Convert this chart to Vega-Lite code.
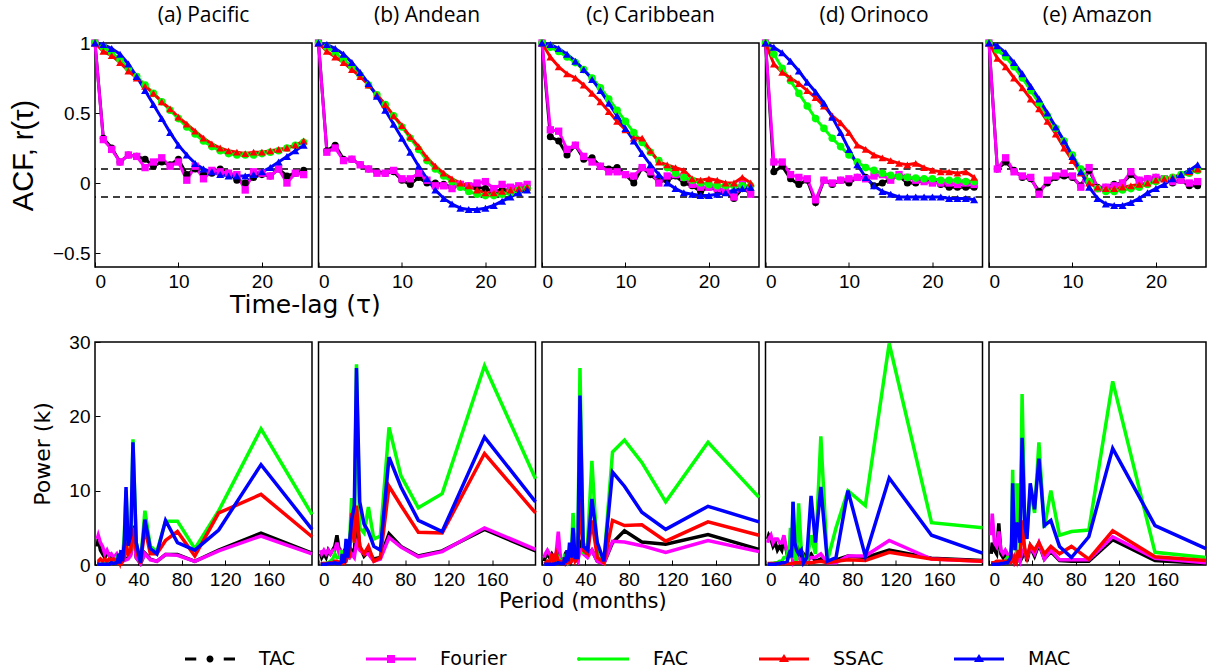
{
"$schema":"https://vega.github.io/schema/vega-lite/v6.json",
"background":"white",
"padding":{"left":9,"top":5,"right":0,"bottom":0},
"datasets":{
"acf":[
{"r":"a","x":0,"TAC":1,"Fourier":1,"FAC":1,"SSAC":1,"MAC":1},
{"r":"a","x":1,"TAC":0.32,"Fourier":0.31,"FAC":0.97,"SSAC":0.94,"MAC":0.99},
{"r":"a","x":2,"TAC":0.25,"Fourier":0.24,"FAC":0.93,"SSAC":0.91,"MAC":0.96},
{"r":"a","x":3,"TAC":0.15,"Fourier":0.15,"FAC":0.88,"SSAC":0.86,"MAC":0.92},
{"r":"a","x":4,"TAC":0.2,"Fourier":0.2,"FAC":0.82,"SSAC":0.8,"MAC":0.85},
{"r":"a","x":5,"TAC":0.19,"Fourier":0.19,"FAC":0.76,"SSAC":0.75,"MAC":0.76},
{"r":"a","x":6,"TAC":0.17,"Fourier":0.11,"FAC":0.7,"SSAC":0.69,"MAC":0.66},
{"r":"a","x":7,"TAC":0.12,"Fourier":0.15,"FAC":0.64,"SSAC":0.64,"MAC":0.56},
{"r":"a","x":8,"TAC":0.15,"Fourier":0.18,"FAC":0.58,"SSAC":0.58,"MAC":0.46},
{"r":"a","x":9,"TAC":0.13,"Fourier":0.12,"FAC":0.52,"SSAC":0.53,"MAC":0.36},
{"r":"a","x":10,"TAC":0.17,"Fourier":0.15,"FAC":0.46,"SSAC":0.47,"MAC":0.27},
{"r":"a","x":11,"TAC":0.06,"Fourier":0.02,"FAC":0.4,"SSAC":0.42,"MAC":0.2},
{"r":"a","x":12,"TAC":0.1,"Fourier":0.12,"FAC":0.35,"SSAC":0.37,"MAC":0.14},
{"r":"a","x":13,"TAC":0.06,"Fourier":0.03,"FAC":0.3,"SSAC":0.32,"MAC":0.1},
{"r":"a","x":14,"TAC":0.07,"Fourier":0.09,"FAC":0.26,"SSAC":0.28,"MAC":0.08},
{"r":"a","x":15,"TAC":0.1,"Fourier":0.08,"FAC":0.23,"SSAC":0.25,"MAC":0.06},
{"r":"a","x":16,"TAC":0.07,"Fourier":0.07,"FAC":0.21,"SSAC":0.23,"MAC":0.05},
{"r":"a","x":17,"TAC":0.02,"Fourier":0.06,"FAC":0.2,"SSAC":0.22,"MAC":0.05},
{"r":"a","x":18,"TAC":0.0,"Fourier":-0.05,"FAC":0.2,"SSAC":0.21,"MAC":0.05},
{"r":"a","x":19,"TAC":0.04,"Fourier":0.08,"FAC":0.2,"SSAC":0.22,"MAC":0.06},
{"r":"a","x":20,"TAC":0.06,"Fourier":0.07,"FAC":0.21,"SSAC":0.22,"MAC":0.08},
{"r":"a","x":21,"TAC":0.05,"Fourier":0.05,"FAC":0.22,"SSAC":0.23,"MAC":0.11},
{"r":"a","x":22,"TAC":0.1,"Fourier":0.1,"FAC":0.23,"SSAC":0.24,"MAC":0.15},
{"r":"a","x":23,"TAC":0.05,"Fourier":0.0,"FAC":0.25,"SSAC":0.25,"MAC":0.19},
{"r":"a","x":24,"TAC":0.07,"Fourier":0.07,"FAC":0.27,"SSAC":0.27,"MAC":0.23},
{"r":"a","x":25,"TAC":0.09,"Fourier":0.06,"FAC":0.29,"SSAC":0.3,"MAC":0.27},
{"r":"b","x":0,"TAC":1,"Fourier":1,"FAC":1,"SSAC":1,"MAC":1},
{"r":"b","x":1,"TAC":0.23,"Fourier":0.22,"FAC":0.97,"SSAC":0.94,"MAC":0.99},
{"r":"b","x":2,"TAC":0.27,"Fourier":0.25,"FAC":0.93,"SSAC":0.9,"MAC":0.96},
{"r":"b","x":3,"TAC":0.17,"Fourier":0.16,"FAC":0.88,"SSAC":0.86,"MAC":0.92},
{"r":"b","x":4,"TAC":0.17,"Fourier":0.17,"FAC":0.83,"SSAC":0.81,"MAC":0.86},
{"r":"b","x":5,"TAC":0.13,"Fourier":0.13,"FAC":0.77,"SSAC":0.76,"MAC":0.79},
{"r":"b","x":6,"TAC":0.1,"Fourier":0.1,"FAC":0.7,"SSAC":0.7,"MAC":0.71},
{"r":"b","x":7,"TAC":0.08,"Fourier":0.07,"FAC":0.63,"SSAC":0.63,"MAC":0.62},
{"r":"b","x":8,"TAC":0.07,"Fourier":0.07,"FAC":0.56,"SSAC":0.56,"MAC":0.52},
{"r":"b","x":9,"TAC":0.08,"Fourier":0.09,"FAC":0.48,"SSAC":0.48,"MAC":0.42},
{"r":"b","x":10,"TAC":0.02,"Fourier":0.03,"FAC":0.4,"SSAC":0.41,"MAC":0.32},
{"r":"b","x":11,"TAC":-0.01,"Fourier":0.03,"FAC":0.32,"SSAC":0.33,"MAC":0.22},
{"r":"b","x":12,"TAC":0.04,"Fourier":0.07,"FAC":0.24,"SSAC":0.26,"MAC":0.12},
{"r":"b","x":13,"TAC":0.0,"Fourier":0.02,"FAC":0.16,"SSAC":0.18,"MAC":0.03},
{"r":"b","x":14,"TAC":0.0,"Fourier":-0.02,"FAC":0.1,"SSAC":0.12,"MAC":-0.05},
{"r":"b","x":15,"TAC":-0.01,"Fourier":-0.02,"FAC":0.05,"SSAC":0.07,"MAC":-0.11},
{"r":"b","x":16,"TAC":-0.03,"Fourier":-0.04,"FAC":0.01,"SSAC":0.03,"MAC":-0.15},
{"r":"b","x":17,"TAC":-0.02,"Fourier":-0.01,"FAC":-0.03,"SSAC":0.0,"MAC":-0.18},
{"r":"b","x":18,"TAC":-0.02,"Fourier":-0.02,"FAC":-0.06,"SSAC":-0.02,"MAC":-0.19},
{"r":"b","x":19,"TAC":-0.03,"Fourier":0.0,"FAC":-0.08,"SSAC":-0.05,"MAC":-0.19},
{"r":"b","x":20,"TAC":-0.04,"Fourier":0.01,"FAC":-0.09,"SSAC":-0.07,"MAC":-0.18},
{"r":"b","x":21,"TAC":-0.06,"Fourier":-0.04,"FAC":-0.09,"SSAC":-0.07,"MAC":-0.16},
{"r":"b","x":22,"TAC":-0.05,"Fourier":-0.01,"FAC":-0.08,"SSAC":-0.06,"MAC":-0.13},
{"r":"b","x":23,"TAC":-0.05,"Fourier":-0.03,"FAC":-0.07,"SSAC":-0.05,"MAC":-0.1},
{"r":"b","x":24,"TAC":-0.04,"Fourier":-0.02,"FAC":-0.05,"SSAC":-0.04,"MAC":-0.07},
{"r":"b","x":25,"TAC":-0.03,"Fourier":-0.01,"FAC":-0.04,"SSAC":-0.03,"MAC":-0.05},
{"r":"c","x":0,"TAC":1,"Fourier":1,"FAC":1,"SSAC":1,"MAC":1},
{"r":"c","x":1,"TAC":0.33,"Fourier":0.38,"FAC":0.97,"SSAC":0.9,"MAC":0.99},
{"r":"c","x":2,"TAC":0.3,"Fourier":0.37,"FAC":0.94,"SSAC":0.83,"MAC":0.96},
{"r":"c","x":3,"TAC":0.2,"Fourier":0.24,"FAC":0.9,"SSAC":0.78,"MAC":0.92},
{"r":"c","x":4,"TAC":0.27,"Fourier":0.27,"FAC":0.86,"SSAC":0.75,"MAC":0.87},
{"r":"c","x":5,"TAC":0.17,"Fourier":0.19,"FAC":0.81,"SSAC":0.7,"MAC":0.81},
{"r":"c","x":6,"TAC":0.18,"Fourier":0.15,"FAC":0.75,"SSAC":0.64,"MAC":0.74},
{"r":"c","x":7,"TAC":0.12,"Fourier":0.12,"FAC":0.68,"SSAC":0.58,"MAC":0.66},
{"r":"c","x":8,"TAC":0.1,"Fourier":0.08,"FAC":0.6,"SSAC":0.51,"MAC":0.57},
{"r":"c","x":9,"TAC":0.11,"Fourier":0.08,"FAC":0.52,"SSAC":0.44,"MAC":0.48},
{"r":"c","x":10,"TAC":0.06,"Fourier":0.06,"FAC":0.44,"SSAC":0.38,"MAC":0.39},
{"r":"c","x":11,"TAC":0.0,"Fourier":0.05,"FAC":0.36,"SSAC":0.32,"MAC":0.3},
{"r":"c","x":12,"TAC":0.11,"Fourier":0.11,"FAC":0.29,"SSAC":0.32,"MAC":0.21},
{"r":"c","x":13,"TAC":0.06,"Fourier":0.08,"FAC":0.22,"SSAC":0.23,"MAC":0.13},
{"r":"c","x":14,"TAC":0.01,"Fourier":0.0,"FAC":0.16,"SSAC":0.15,"MAC":0.06},
{"r":"c","x":15,"TAC":0.02,"Fourier":0.05,"FAC":0.11,"SSAC":0.13,"MAC":0.0},
{"r":"c","x":16,"TAC":0.05,"Fourier":0.06,"FAC":0.07,"SSAC":0.11,"MAC":-0.04},
{"r":"c","x":17,"TAC":0.0,"Fourier":0.04,"FAC":0.04,"SSAC":0.09,"MAC":-0.07},
{"r":"c","x":18,"TAC":-0.02,"Fourier":-0.01,"FAC":0.02,"SSAC":0.03,"MAC":-0.08},
{"r":"c","x":19,"TAC":-0.06,"Fourier":-0.03,"FAC":0.0,"SSAC":0.02,"MAC":-0.09},
{"r":"c","x":20,"TAC":-0.03,"Fourier":-0.03,"FAC":-0.01,"SSAC":0.03,"MAC":-0.09},
{"r":"c","x":21,"TAC":-0.05,"Fourier":-0.04,"FAC":-0.02,"SSAC":0.02,"MAC":-0.08},
{"r":"c","x":22,"TAC":-0.06,"Fourier":-0.05,"FAC":-0.02,"SSAC":0.0,"MAC":-0.07},
{"r":"c","x":23,"TAC":-0.11,"Fourier":-0.1,"FAC":-0.02,"SSAC":0.0,"MAC":-0.05},
{"r":"c","x":24,"TAC":-0.04,"Fourier":-0.01,"FAC":-0.02,"SSAC":0.04,"MAC":-0.04},
{"r":"c","x":25,"TAC":-0.07,"Fourier":-0.08,"FAC":-0.02,"SSAC":0.0,"MAC":-0.03},
{"r":"d","x":0,"TAC":1,"Fourier":1,"FAC":1,"SSAC":1,"MAC":1},
{"r":"d","x":1,"TAC":0.08,"Fourier":0.15,"FAC":0.92,"SSAC":0.85,"MAC":0.97},
{"r":"d","x":2,"TAC":0.12,"Fourier":0.15,"FAC":0.82,"SSAC":0.79,"MAC":0.93},
{"r":"d","x":3,"TAC":0.03,"Fourier":0.06,"FAC":0.73,"SSAC":0.75,"MAC":0.87},
{"r":"d","x":4,"TAC":-0.01,"Fourier":0.04,"FAC":0.64,"SSAC":0.71,"MAC":0.8},
{"r":"d","x":5,"TAC":0.02,"Fourier":0.03,"FAC":0.55,"SSAC":0.66,"MAC":0.72},
{"r":"d","x":6,"TAC":-0.14,"Fourier":-0.12,"FAC":0.46,"SSAC":0.61,"MAC":0.65},
{"r":"d","x":7,"TAC":0.02,"Fourier":0.02,"FAC":0.39,"SSAC":0.55,"MAC":0.57},
{"r":"d","x":8,"TAC":-0.01,"Fourier":0.0,"FAC":0.32,"SSAC":0.48,"MAC":0.47},
{"r":"d","x":9,"TAC":0.02,"Fourier":0.02,"FAC":0.26,"SSAC":0.43,"MAC":0.36},
{"r":"d","x":10,"TAC":0.0,"Fourier":0.03,"FAC":0.2,"SSAC":0.36,"MAC":0.24},
{"r":"d","x":11,"TAC":0.04,"Fourier":0.04,"FAC":0.15,"SSAC":0.27,"MAC":0.13},
{"r":"d","x":12,"TAC":0.04,"Fourier":0.03,"FAC":0.11,"SSAC":0.24,"MAC":0.04},
{"r":"d","x":13,"TAC":-0.02,"Fourier":0.05,"FAC":0.09,"SSAC":0.2,"MAC":-0.02},
{"r":"d","x":14,"TAC":0.0,"Fourier":0.06,"FAC":0.07,"SSAC":0.18,"MAC":-0.06},
{"r":"d","x":15,"TAC":0.03,"Fourier":0.02,"FAC":0.055,"SSAC":0.16,"MAC":-0.08},
{"r":"d","x":16,"TAC":0.05,"Fourier":0.06,"FAC":0.045,"SSAC":0.14,"MAC":-0.1},
{"r":"d","x":17,"TAC":0.0,"Fourier":0.04,"FAC":0.04,"SSAC":0.13,"MAC":-0.1},
{"r":"d","x":18,"TAC":0.0,"Fourier":0.02,"FAC":0.035,"SSAC":0.14,"MAC":-0.1},
{"r":"d","x":19,"TAC":0.02,"Fourier":0.01,"FAC":0.03,"SSAC":0.11,"MAC":-0.1},
{"r":"d","x":20,"TAC":0.02,"Fourier":0.0,"FAC":0.03,"SSAC":0.09,"MAC":-0.1},
{"r":"d","x":21,"TAC":-0.01,"Fourier":0.0,"FAC":0.02,"SSAC":0.08,"MAC":-0.1},
{"r":"d","x":22,"TAC":-0.03,"Fourier":0.0,"FAC":0.02,"SSAC":0.08,"MAC":-0.11},
{"r":"d","x":23,"TAC":-0.03,"Fourier":-0.01,"FAC":0.02,"SSAC":0.07,"MAC":-0.11},
{"r":"d","x":24,"TAC":-0.03,"Fourier":0.0,"FAC":0.01,"SSAC":0.08,"MAC":-0.11},
{"r":"d","x":25,"TAC":-0.03,"Fourier":-0.01,"FAC":0.01,"SSAC":0.04,"MAC":-0.12},
{"r":"e","x":0,"TAC":1,"Fourier":1,"FAC":1,"SSAC":1,"MAC":1},
{"r":"e","x":1,"TAC":0.1,"Fourier":0.1,"FAC":0.95,"SSAC":0.89,"MAC":0.98},
{"r":"e","x":2,"TAC":0.15,"Fourier":0.18,"FAC":0.9,"SSAC":0.83,"MAC":0.93},
{"r":"e","x":3,"TAC":0.09,"Fourier":0.08,"FAC":0.83,"SSAC":0.75,"MAC":0.86},
{"r":"e","x":4,"TAC":0.04,"Fourier":0.05,"FAC":0.75,"SSAC":0.68,"MAC":0.78},
{"r":"e","x":5,"TAC":0.03,"Fourier":0.04,"FAC":0.66,"SSAC":0.6,"MAC":0.69},
{"r":"e","x":6,"TAC":-0.06,"Fourier":-0.08,"FAC":0.57,"SSAC":0.53,"MAC":0.6},
{"r":"e","x":7,"TAC":0.0,"Fourier":0.02,"FAC":0.48,"SSAC":0.44,"MAC":0.5},
{"r":"e","x":8,"TAC":0.04,"Fourier":0.05,"FAC":0.39,"SSAC":0.35,"MAC":0.4},
{"r":"e","x":9,"TAC":0.05,"Fourier":0.07,"FAC":0.3,"SSAC":0.25,"MAC":0.3},
{"r":"e","x":10,"TAC":0.04,"Fourier":0.05,"FAC":0.2,"SSAC":0.16,"MAC":0.19},
{"r":"e","x":11,"TAC":-0.02,"Fourier":-0.03,"FAC":0.1,"SSAC":0.07,"MAC":0.08},
{"r":"e","x":12,"TAC":0.09,"Fourier":0.11,"FAC":0.01,"SSAC":0.0,"MAC":-0.03},
{"r":"e","x":13,"TAC":-0.03,"Fourier":-0.04,"FAC":-0.04,"SSAC":-0.03,"MAC":-0.11},
{"r":"e","x":14,"TAC":-0.03,"Fourier":-0.03,"FAC":-0.06,"SSAC":-0.04,"MAC":-0.15},
{"r":"e","x":15,"TAC":-0.01,"Fourier":-0.02,"FAC":-0.06,"SSAC":-0.04,"MAC":-0.16},
{"r":"e","x":16,"TAC":0.0,"Fourier":0.0,"FAC":-0.05,"SSAC":-0.03,"MAC":-0.16},
{"r":"e","x":17,"TAC":0.06,"Fourier":0.08,"FAC":-0.04,"SSAC":-0.02,"MAC":-0.14},
{"r":"e","x":18,"TAC":0.02,"Fourier":0.02,"FAC":-0.03,"SSAC":-0.01,"MAC":-0.11},
{"r":"e","x":19,"TAC":0.03,"Fourier":0.03,"FAC":-0.01,"SSAC":0.0,"MAC":-0.07},
{"r":"e","x":20,"TAC":0.04,"Fourier":0.04,"FAC":0.01,"SSAC":0.02,"MAC":-0.04},
{"r":"e","x":21,"TAC":0.03,"Fourier":0.03,"FAC":0.03,"SSAC":0.03,"MAC":-0.01},
{"r":"e","x":22,"TAC":0.0,"Fourier":0.01,"FAC":0.04,"SSAC":0.04,"MAC":0.03},
{"r":"e","x":23,"TAC":0.02,"Fourier":0.02,"FAC":0.06,"SSAC":0.06,"MAC":0.06},
{"r":"e","x":24,"TAC":-0.02,"Fourier":0.0,"FAC":0.07,"SSAC":0.08,"MAC":0.09},
{"r":"e","x":25,"TAC":-0.02,"Fourier":0.01,"FAC":0.09,"SSAC":0.1,"MAC":0.13}
],
"psd":[
{"r":"a","x":200,"TAC":1.6,"Fourier":1.5,"FAC":6.8,"SSAC":3.8,"MAC":4.8},
{"r":"a","x":153,"TAC":4.3,"Fourier":3.9,"FAC":18.3,"SSAC":9.5,"MAC":13.5},
{"r":"a","x":114,"TAC":2.0,"Fourier":1.9,"FAC":7.3,"SSAC":7.0,"MAC":4.7},
{"r":"a","x":92,"TAC":0.5,"Fourier":0.5,"FAC":2.2,"SSAC":1.2,"MAC":2.0},
{"r":"a","x":76,"TAC":1.4,"Fourier":1.3,"FAC":5.9,"SSAC":4.5,"MAC":3.0},
{"r":"a","x":65,"TAC":1.4,"Fourier":1.4,"FAC":5.9,"SSAC":3.3,"MAC":6.0},
{"r":"a","x":57,"TAC":0.5,"Fourier":0.5,"FAC":1.8,"SSAC":1.5,"MAC":1.5},
{"r":"a","x":51,"TAC":0.8,"Fourier":0.7,"FAC":2.5,"SSAC":1.5,"MAC":2.2},
{"r":"a","x":46,"TAC":1.6,"Fourier":1.5,"FAC":7.3,"SSAC":5.0,"MAC":6.1},
{"r":"a","x":42,"TAC":0.2,"Fourier":0.2,"FAC":0.3,"SSAC":0.2,"MAC":0.3},
{"r":"a","x":38,"TAC":1.0,"Fourier":1.0,"FAC":3.0,"SSAC":2.0,"MAC":3.0},
{"r":"a","x":35,"TAC":5.3,"Fourier":5.0,"FAC":16.9,"SSAC":5.0,"MAC":16.5},
{"r":"a","x":33,"TAC":1.5,"Fourier":1.3,"FAC":2.5,"SSAC":2.0,"MAC":4.0},
{"r":"a","x":30.5,"TAC":1.0,"Fourier":0.8,"FAC":3.0,"SSAC":1.5,"MAC":2.6},
{"r":"a","x":28.6,"TAC":0.8,"Fourier":0.7,"FAC":10.0,"SSAC":3.0,"MAC":10.5},
{"r":"a","x":27,"TAC":0.8,"Fourier":0.6,"FAC":4.0,"SSAC":1.0,"MAC":3.0},
{"r":"a","x":25.4,"TAC":1.0,"Fourier":1.2,"FAC":1.0,"SSAC":0.5,"MAC":0.5},
{"r":"a","x":24,"TAC":1.0,"Fourier":0.8,"FAC":2.0,"SSAC":1.0,"MAC":2.0},
{"r":"a","x":23,"TAC":1.5,"Fourier":1.3,"FAC":0.5,"SSAC":0.3,"MAC":0.2},
{"r":"a","x":21.8,"TAC":0.5,"Fourier":0.6,"FAC":1.5,"SSAC":0.8,"MAC":1.5},
{"r":"a","x":20.8,"TAC":1.0,"Fourier":1.2,"FAC":0.8,"SSAC":0.4,"MAC":0.5},
{"r":"a","x":20,"TAC":0.8,"Fourier":1.5,"FAC":1.0,"SSAC":0.6,"MAC":0.3},
{"r":"a","x":17,"TAC":1.0,"Fourier":1.0,"FAC":0.5,"SSAC":0.8,"MAC":0.2},
{"r":"a","x":15,"TAC":1.2,"Fourier":1.5,"FAC":0.6,"SSAC":0.6,"MAC":0.3},
{"r":"a","x":13,"TAC":1.5,"Fourier":1.3,"FAC":0.3,"SSAC":0.8,"MAC":0.1},
{"r":"a","x":11,"TAC":1.5,"Fourier":2.0,"FAC":0.2,"SSAC":0.5,"MAC":0.1},
{"r":"a","x":9,"TAC":1.0,"Fourier":1.5,"FAC":0.2,"SSAC":0.8,"MAC":0.1},
{"r":"a","x":7,"TAC":1.5,"Fourier":2.5,"FAC":0.1,"SSAC":0.5,"MAC":0.1},
{"r":"a","x":5,"TAC":2.0,"Fourier":3.0,"FAC":0.1,"SSAC":0.8,"MAC":0.1},
{"r":"a","x":3,"TAC":3.5,"Fourier":4.0,"FAC":0.1,"SSAC":0.5,"MAC":0.1},
{"r":"a","x":2,"TAC":2.5,"Fourier":3.5,"FAC":0.1,"SSAC":0.5,"MAC":0.1},
{"r":"b","x":200,"TAC":1.9,"Fourier":2.1,"FAC":11.6,"SSAC":7.0,"MAC":8.5},
{"r":"b","x":153,"TAC":4.8,"Fourier":5.0,"FAC":26.8,"SSAC":15.0,"MAC":17.2},
{"r":"b","x":114,"TAC":1.9,"Fourier":1.8,"FAC":9.6,"SSAC":4.3,"MAC":4.5},
{"r":"b","x":92,"TAC":1.2,"Fourier":1.1,"FAC":7.7,"SSAC":4.4,"MAC":6.0},
{"r":"b","x":76,"TAC":2.5,"Fourier":2.4,"FAC":12.0,"SSAC":8.0,"MAC":10.5},
{"r":"b","x":65,"TAC":4.2,"Fourier":3.7,"FAC":18.5,"SSAC":10.6,"MAC":14.5},
{"r":"b","x":57,"TAC":1.0,"Fourier":0.8,"FAC":3.9,"SSAC":1.0,"MAC":2.0},
{"r":"b","x":51,"TAC":0.8,"Fourier":0.5,"FAC":3.5,"SSAC":0.5,"MAC":2.5},
{"r":"b","x":46,"TAC":1.8,"Fourier":1.5,"FAC":7.8,"SSAC":2.5,"MAC":4.5},
{"r":"b","x":42,"TAC":1.2,"Fourier":1.5,"FAC":4.3,"SSAC":1.5,"MAC":5.5},
{"r":"b","x":38,"TAC":2.5,"Fourier":2.0,"FAC":5.0,"SSAC":2.5,"MAC":8.5},
{"r":"b","x":35,"TAC":7.0,"Fourier":3.0,"FAC":27.0,"SSAC":8.0,"MAC":26.5},
{"r":"b","x":33,"TAC":1.5,"Fourier":1.0,"FAC":3.0,"SSAC":3.0,"MAC":8.0},
{"r":"b","x":30.5,"TAC":2.0,"Fourier":1.5,"FAC":9.0,"SSAC":7.0,"MAC":6.0},
{"r":"b","x":28.6,"TAC":1.0,"Fourier":1.0,"FAC":3.0,"SSAC":1.0,"MAC":3.0},
{"r":"b","x":27,"TAC":1.0,"Fourier":1.2,"FAC":1.0,"SSAC":1.5,"MAC":1.0},
{"r":"b","x":25.4,"TAC":2.5,"Fourier":2.0,"FAC":2.0,"SSAC":0.5,"MAC":3.5},
{"r":"b","x":24,"TAC":1.0,"Fourier":1.0,"FAC":0.8,"SSAC":0.3,"MAC":0.5},
{"r":"b","x":23,"TAC":1.5,"Fourier":2.0,"FAC":1.5,"SSAC":0.5,"MAC":0.5},
{"r":"b","x":21.8,"TAC":1.0,"Fourier":1.0,"FAC":0.5,"SSAC":0.3,"MAC":1.5},
{"r":"b","x":20.8,"TAC":1.5,"Fourier":1.5,"FAC":2.0,"SSAC":0.5,"MAC":0.3},
{"r":"b","x":20,"TAC":1.0,"Fourier":1.0,"FAC":1.0,"SSAC":0.3,"MAC":0.2},
{"r":"b","x":17,"TAC":4.0,"Fourier":3.0,"FAC":1.0,"SSAC":0.5,"MAC":0.2},
{"r":"b","x":15,"TAC":2.5,"Fourier":2.0,"FAC":1.5,"SSAC":0.5,"MAC":0.3},
{"r":"b","x":13,"TAC":2.0,"Fourier":2.0,"FAC":0.8,"SSAC":0.3,"MAC":0.2},
{"r":"b","x":11,"TAC":1.5,"Fourier":1.5,"FAC":0.5,"SSAC":0.3,"MAC":0.2},
{"r":"b","x":9,"TAC":2.0,"Fourier":2.0,"FAC":0.3,"SSAC":0.2,"MAC":0.2},
{"r":"b","x":7,"TAC":1.0,"Fourier":1.5,"FAC":0.2,"SSAC":0.2,"MAC":0.1},
{"r":"b","x":5,"TAC":1.5,"Fourier":2.0,"FAC":0.2,"SSAC":0.2,"MAC":0.1},
{"r":"b","x":3,"TAC":1.0,"Fourier":1.5,"FAC":0.1,"SSAC":0.2,"MAC":0.1},
{"r":"b","x":2,"TAC":1.5,"Fourier":2.0,"FAC":0.1,"SSAC":0.2,"MAC":0.1},
{"r":"c","x":200,"TAC":2.1,"Fourier":1.8,"FAC":9.1,"SSAC":4.0,"MAC":5.8},
{"r":"c","x":153,"TAC":4.1,"Fourier":3.3,"FAC":16.5,"SSAC":5.8,"MAC":7.9},
{"r":"c","x":114,"TAC":2.8,"Fourier":1.7,"FAC":8.5,"SSAC":3.2,"MAC":4.8},
{"r":"c","x":92,"TAC":3.1,"Fourier":2.6,"FAC":13.8,"SSAC":5.4,"MAC":7.1},
{"r":"c","x":76,"TAC":4.6,"Fourier":3.1,"FAC":16.8,"SSAC":5.3,"MAC":10.6},
{"r":"c","x":65,"TAC":3.0,"Fourier":3.2,"FAC":15.2,"SSAC":6.0,"MAC":12.5},
{"r":"c","x":57,"TAC":0.2,"Fourier":0.2,"FAC":0.4,"SSAC":0.3,"MAC":0.5},
{"r":"c","x":51,"TAC":0.5,"Fourier":0.5,"FAC":1.5,"SSAC":1.0,"MAC":3.0},
{"r":"c","x":46,"TAC":2.0,"Fourier":2.0,"FAC":14.0,"SSAC":6.0,"MAC":8.9},
{"r":"c","x":42,"TAC":1.5,"Fourier":1.0,"FAC":3.0,"SSAC":1.5,"MAC":2.0},
{"r":"c","x":38,"TAC":2.0,"Fourier":1.5,"FAC":1.5,"SSAC":2.0,"MAC":2.5},
{"r":"c","x":35,"TAC":3.0,"Fourier":2.0,"FAC":26.5,"SSAC":9.0,"MAC":22.8},
{"r":"c","x":33,"TAC":0.5,"Fourier":0.5,"FAC":2.0,"SSAC":1.0,"MAC":1.0},
{"r":"c","x":30.5,"TAC":1.0,"Fourier":1.0,"FAC":2.0,"SSAC":0.5,"MAC":1.0},
{"r":"c","x":28.6,"TAC":1.0,"Fourier":0.8,"FAC":7.0,"SSAC":1.5,"MAC":5.0},
{"r":"c","x":27,"TAC":0.5,"Fourier":0.5,"FAC":1.0,"SSAC":0.5,"MAC":1.0},
{"r":"c","x":25.4,"TAC":1.5,"Fourier":1.0,"FAC":1.0,"SSAC":0.3,"MAC":3.0},
{"r":"c","x":24,"TAC":0.5,"Fourier":0.5,"FAC":0.5,"SSAC":0.3,"MAC":0.5},
{"r":"c","x":23,"TAC":1.0,"Fourier":1.0,"FAC":1.0,"SSAC":0.5,"MAC":2.0},
{"r":"c","x":21.8,"TAC":0.5,"Fourier":0.5,"FAC":0.5,"SSAC":0.3,"MAC":0.3},
{"r":"c","x":20.8,"TAC":1.0,"Fourier":0.8,"FAC":1.5,"SSAC":1.0,"MAC":1.0},
{"r":"c","x":20,"TAC":0.5,"Fourier":0.5,"FAC":0.5,"SSAC":0.3,"MAC":0.2},
{"r":"c","x":17,"TAC":1.0,"Fourier":1.0,"FAC":0.5,"SSAC":0.5,"MAC":0.2},
{"r":"c","x":15,"TAC":2.0,"Fourier":4.5,"FAC":1.0,"SSAC":0.5,"MAC":0.3},
{"r":"c","x":13,"TAC":1.5,"Fourier":1.5,"FAC":0.5,"SSAC":1.5,"MAC":0.2},
{"r":"c","x":11,"TAC":1.0,"Fourier":1.0,"FAC":0.3,"SSAC":0.3,"MAC":0.1},
{"r":"c","x":9,"TAC":1.5,"Fourier":1.0,"FAC":0.5,"SSAC":1.5,"MAC":0.1},
{"r":"c","x":7,"TAC":1.0,"Fourier":1.5,"FAC":0.2,"SSAC":0.3,"MAC":0.1},
{"r":"c","x":5,"TAC":1.5,"Fourier":2.0,"FAC":0.2,"SSAC":0.5,"MAC":0.1},
{"r":"c","x":3,"TAC":1.0,"Fourier":1.5,"FAC":0.1,"SSAC":0.2,"MAC":0.1},
{"r":"c","x":2,"TAC":0.5,"Fourier":1.0,"FAC":0.1,"SSAC":0.1,"MAC":0.1},
{"r":"d","x":200,"TAC":0.6,"Fourier":0.5,"FAC":5.0,"SSAC":0.5,"MAC":1.6},
{"r":"d","x":153,"TAC":0.9,"Fourier":0.8,"FAC":5.7,"SSAC":0.8,"MAC":4.0},
{"r":"d","x":114,"TAC":2.0,"Fourier":3.3,"FAC":29.8,"SSAC":1.7,"MAC":11.7},
{"r":"d","x":92,"TAC":1.0,"Fourier":1.2,"FAC":8.0,"SSAC":0.6,"MAC":1.2},
{"r":"d","x":76,"TAC":1.2,"Fourier":1.2,"FAC":10.0,"SSAC":0.7,"MAC":10.0},
{"r":"d","x":65,"TAC":0.7,"Fourier":0.3,"FAC":5.0,"SSAC":0.5,"MAC":1.0},
{"r":"d","x":57,"TAC":0.3,"Fourier":0.3,"FAC":0.5,"SSAC":0.3,"MAC":0.5},
{"r":"d","x":51,"TAC":0.8,"Fourier":1.5,"FAC":17.3,"SSAC":0.5,"MAC":10.5},
{"r":"d","x":46,"TAC":0.5,"Fourier":1.0,"FAC":1.5,"SSAC":0.4,"MAC":3.0},
{"r":"d","x":42,"TAC":1.5,"Fourier":1.0,"FAC":4.0,"SSAC":0.3,"MAC":9.3},
{"r":"d","x":38,"TAC":1.0,"Fourier":0.5,"FAC":0.5,"SSAC":0.3,"MAC":1.0},
{"r":"d","x":35,"TAC":1.5,"Fourier":0.8,"FAC":1.0,"SSAC":0.3,"MAC":0.3},
{"r":"d","x":33,"TAC":1.0,"Fourier":0.5,"FAC":2.0,"SSAC":0.3,"MAC":2.0},
{"r":"d","x":30.5,"TAC":2.0,"Fourier":1.0,"FAC":8.3,"SSAC":0.3,"MAC":1.5},
{"r":"d","x":28.6,"TAC":1.0,"Fourier":1.5,"FAC":0.5,"SSAC":0.3,"MAC":2.0},
{"r":"d","x":27,"TAC":1.5,"Fourier":1.0,"FAC":1.0,"SSAC":0.3,"MAC":3.0},
{"r":"d","x":25.4,"TAC":0.5,"Fourier":0.5,"FAC":8.5,"SSAC":0.2,"MAC":8.5},
{"r":"d","x":24,"TAC":1.5,"Fourier":2.0,"FAC":1.0,"SSAC":0.2,"MAC":1.0},
{"r":"d","x":23,"TAC":1.0,"Fourier":1.0,"FAC":5.0,"SSAC":0.2,"MAC":2.0},
{"r":"d","x":21.8,"TAC":2.0,"Fourier":1.5,"FAC":1.5,"SSAC":0.2,"MAC":1.5},
{"r":"d","x":20.8,"TAC":1.0,"Fourier":1.0,"FAC":2.0,"SSAC":0.2,"MAC":1.0},
{"r":"d","x":20,"TAC":1.5,"Fourier":1.5,"FAC":1.0,"SSAC":0.2,"MAC":0.5},
{"r":"d","x":17,"TAC":3.5,"Fourier":4.0,"FAC":1.0,"SSAC":0.2,"MAC":0.3},
{"r":"d","x":15,"TAC":2.0,"Fourier":3.0,"FAC":0.5,"SSAC":0.2,"MAC":0.3},
{"r":"d","x":13,"TAC":2.5,"Fourier":3.0,"FAC":0.5,"SSAC":0.2,"MAC":0.2},
{"r":"d","x":11,"TAC":2.0,"Fourier":3.5,"FAC":0.3,"SSAC":0.2,"MAC":0.2},
{"r":"d","x":9,"TAC":3.0,"Fourier":3.5,"FAC":0.3,"SSAC":0.2,"MAC":0.1},
{"r":"d","x":7,"TAC":2.5,"Fourier":3.0,"FAC":0.2,"SSAC":0.2,"MAC":0.1},
{"r":"d","x":5,"TAC":3.5,"Fourier":4.0,"FAC":0.2,"SSAC":0.2,"MAC":0.1},
{"r":"d","x":3,"TAC":4.0,"Fourier":3.5,"FAC":0.1,"SSAC":0.2,"MAC":0.1},
{"r":"d","x":2,"TAC":3.5,"Fourier":3.0,"FAC":0.1,"SSAC":0.2,"MAC":0.1},
{"r":"e","x":200,"TAC":0.2,"Fourier":0.3,"FAC":1.0,"SSAC":0.6,"MAC":2.2},
{"r":"e","x":153,"TAC":0.6,"Fourier":0.9,"FAC":1.7,"SSAC":1.1,"MAC":5.3},
{"r":"e","x":114,"TAC":3.4,"Fourier":3.8,"FAC":24.7,"SSAC":4.6,"MAC":15.7},
{"r":"e","x":92,"TAC":0.5,"Fourier":0.7,"FAC":4.7,"SSAC":0.8,"MAC":3.8},
{"r":"e","x":76,"TAC":0.5,"Fourier":0.7,"FAC":4.5,"SSAC":2.5,"MAC":1.0},
{"r":"e","x":65,"TAC":0.6,"Fourier":0.7,"FAC":4.0,"SSAC":1.5,"MAC":2.5},
{"r":"e","x":57,"TAC":1.8,"Fourier":2.0,"FAC":10.0,"SSAC":2.5,"MAC":6.0},
{"r":"e","x":51,"TAC":0.8,"Fourier":0.8,"FAC":5.0,"SSAC":1.5,"MAC":5.3},
{"r":"e","x":46,"TAC":2.8,"Fourier":3.0,"FAC":16.5,"SSAC":3.0,"MAC":14.3},
{"r":"e","x":42,"TAC":1.2,"Fourier":1.5,"FAC":7.0,"SSAC":2.0,"MAC":7.5},
{"r":"e","x":38,"TAC":2.5,"Fourier":2.5,"FAC":10.0,"SSAC":2.7,"MAC":11.0},
{"r":"e","x":35,"TAC":0.5,"Fourier":0.8,"FAC":4.0,"SSAC":1.0,"MAC":3.5},
{"r":"e","x":33,"TAC":2.0,"Fourier":2.0,"FAC":5.5,"SSAC":2.0,"MAC":5.5},
{"r":"e","x":30.5,"TAC":1.0,"Fourier":2.0,"FAC":23.0,"SSAC":6.0,"MAC":17.1},
{"r":"e","x":28.6,"TAC":0.5,"Fourier":0.5,"FAC":3.0,"SSAC":1.0,"MAC":3.0},
{"r":"e","x":27,"TAC":1.0,"Fourier":1.0,"FAC":11.0,"SSAC":2.0,"MAC":5.0},
{"r":"e","x":25.4,"TAC":0.5,"Fourier":0.5,"FAC":1.0,"SSAC":0.5,"MAC":5.7},
{"r":"e","x":24,"TAC":1.0,"Fourier":1.0,"FAC":11.0,"SSAC":1.0,"MAC":2.0},
{"r":"e","x":23,"TAC":0.5,"Fourier":0.5,"FAC":2.0,"SSAC":0.5,"MAC":5.0},
{"r":"e","x":21.8,"TAC":1.0,"Fourier":1.0,"FAC":12.8,"SSAC":1.0,"MAC":11.0},
{"r":"e","x":20.8,"TAC":0.5,"Fourier":0.5,"FAC":3.0,"SSAC":0.5,"MAC":3.0},
{"r":"e","x":20,"TAC":0.5,"Fourier":0.5,"FAC":1.0,"SSAC":0.3,"MAC":1.0},
{"r":"e","x":17,"TAC":1.0,"Fourier":1.5,"FAC":1.0,"SSAC":0.5,"MAC":0.3},
{"r":"e","x":15,"TAC":1.5,"Fourier":2.0,"FAC":0.5,"SSAC":0.5,"MAC":0.3},
{"r":"e","x":13,"TAC":1.0,"Fourier":1.5,"FAC":0.3,"SSAC":0.5,"MAC":0.2},
{"r":"e","x":11,"TAC":1.5,"Fourier":2.0,"FAC":0.3,"SSAC":0.5,"MAC":0.2},
{"r":"e","x":9,"TAC":5.6,"Fourier":4.5,"FAC":0.2,"SSAC":0.5,"MAC":0.1},
{"r":"e","x":7,"TAC":1.5,"Fourier":2.5,"FAC":0.2,"SSAC":0.5,"MAC":0.1},
{"r":"e","x":5,"TAC":2.0,"Fourier":3.0,"FAC":0.2,"SSAC":0.3,"MAC":0.1},
{"r":"e","x":3,"TAC":3.0,"Fourier":6.9,"FAC":0.1,"SSAC":0.3,"MAC":0.1},
{"r":"e","x":2,"TAC":1.5,"Fourier":4.0,"FAC":0.1,"SSAC":0.3,"MAC":0.1}
]
},
"vconcat":[
{
"data":{"name":"acf"},
"transform":[{"fold":["TAC","Fourier","FAC","SSAC","MAC"],"as":["s","y"]}],
"facet":{"column":{"field":"r","type":"nominal","title":null,"header":{"labelExpr":"datum.value=='a'?'(a) Pacific':datum.value=='b'?'(b) Andean':datum.value=='c'?'(c) Caribbean':datum.value=='d'?'(d) Orinoco':'(e) Amazon'","labelFontSize":21,"labelFont":"Open Sans","labelColor":"black","labelPadding":17}}},
"spacing":6.5,
"bounds":"flush",
"title":{"text":"Time-lag (τ)","orient":"bottom","anchor":"start","frame":"group","dx":135,"offset":2,"fontSize":25,"font":"DejaVu Sans","fontWeight":"normal","color":"black"},
"spec":{"width":217,"height":224,"layer":[
{"transform":[{"filter":"datum.x==0 && datum.s=='TAC'"}],"mark":{"type":"rule","color":"black","strokeWidth":1.3,"strokeDash":[7,5]},"encoding":{"y":{"datum":0.1,"type":"quantitative"}}},
{"transform":[{"filter":"datum.x==0 && datum.s=='TAC'"}],"mark":{"type":"rule","color":"black","strokeWidth":1.3,"strokeDash":[7,5]},"encoding":{"y":{"datum":-0.1,"type":"quantitative"}}},
{"mark":{"type":"line","strokeWidth":3},"encoding":{
"x":{"field":"x","type":"quantitative","scale":{"domain":[0,25]},"axis":{"values":[0,10,20],"title":null}},
"y":{"field":"y","type":"quantitative","scale":{"domain":[-0.5,1]},"axis":{"values":[-0.5,0,0.5,1],"format":"~g","title":"ACF, r(τ)","titleFontSize":29,"titlePadding":14}},
"color":{"field":"s","type":"nominal","scale":{"domain":["TAC","Fourier","FAC","SSAC","MAC"],"range":["#000000","#ff00ff","#00ff00","#ff0000","#0000ff"]},"legend":null}}},
{"mark":{"type":"point","filled":true,"opacity":1},"encoding":{
"x":{"field":"x","type":"quantitative"},
"y":{"field":"y","type":"quantitative"},
"color":{"field":"s","type":"nominal","legend":null},
"shape":{"field":"s","type":"nominal","scale":{"domain":["TAC","Fourier","FAC","SSAC","MAC"],"range":["circle","square","circle","triangle-up","triangle-up"]},"legend":null},
"size":{"field":"s","type":"nominal","scale":{"domain":["TAC","Fourier","FAC","SSAC","MAC"],"range":[50,65,16,95,95]},"legend":null}}}
]}
},
{
"data":{"name":"psd"},
"transform":[{"fold":["TAC","Fourier","FAC","SSAC","MAC"],"as":["s","y"]}],
"facet":{"column":{"field":"r","type":"nominal","title":null,"header":{"labels":false}}},
"spacing":6.5,
"bounds":"flush",
"title":{"text":"Period (months)","orient":"bottom","anchor":"start","frame":"group","dx":404,"offset":2,"fontSize":21,"font":"DejaVu Sans","fontWeight":"normal","color":"black"},
"spec":{"width":217,"height":223,"layer":[
{"mark":{"type":"line","strokeWidth":3.5},"encoding":{
"x":{"field":"x","type":"quantitative","scale":{"domain":[0,200]},"axis":{"values":[0,40,80,120,160],"title":null}},
"y":{"field":"y","type":"quantitative","scale":{"domain":[0,30]},"axis":{"values":[0,10,20,30],"title":"Power (k)","titleFontSize":22,"titleFont":"DejaVu Sans","titlePadding":14}},
"color":{"field":"s","type":"nominal","scale":{"domain":["TAC","Fourier","FAC","SSAC","MAC"],"range":["#000000","#ff00ff","#00ff00","#ff0000","#0000ff"]},"legend":null}}}
]}
},
{
"width":1110,"height":10,"view":{"stroke":null},
"data":{"values":[{"s":"TAC"},{"s":"Fourier"},{"s":"FAC"},{"s":"SSAC"},{"s":"MAC"}]},
"mark":{"type":"point","filled":true,"opacity":0},
"encoding":{
"color":{"field":"s","type":"nominal","scale":{"domain":["TAC","Fourier","FAC","SSAC","MAC"],"range":["#000000","#ff00ff","#00ff00","#ff0000","#0000ff"]},"legend":{"title":null,"orient":"none","legendX":90,"legendY":7,"direction":"horizontal","columns":5,"symbolSize":2500,"symbolOpacity":1,"symbolStrokeWidth":0,"labelFontSize":19,"labelFont":"DejaVu Sans","labelColor":"black","labelOffset":24,"columnPadding":70}},
"shape":{"field":"s","type":"nominal","scale":{"domain":["TAC","Fourier","FAC","SSAC","MAC"],"range":["M-1,-0.06H-0.55V0.06H-1Z M0.55,-0.06H1V0.06H0.55Z M-0.14,0A0.14,0.14 0 1,1 0.14,0A0.14,0.14 0 1,1 -0.14,0Z","M-1,-0.06H1V0.06H-1Z M-0.16,-0.16H0.16V0.16H-0.16Z","M-1,-0.06H1V0.06H-1Z M-1.08,0A0.08,0.08 0 1,1 -0.92,0A0.08,0.08 0 1,1 -1.08,0Z","M-1,-0.06H1V0.06H-1Z M0,-0.2L0.2,0.12H-0.2Z","M-1,-0.06H1V0.06H-1Z M0,-0.2L0.2,0.12H-0.2Z"]},"legend":{"title":null,"orient":"none","legendX":90,"legendY":7,"direction":"horizontal","columns":5,"symbolSize":2500,"symbolOpacity":1,"symbolStrokeWidth":0,"labelFontSize":19,"labelFont":"DejaVu Sans","labelColor":"black","labelOffset":24,"columnPadding":70}}
}
}
],
"spacing":15,
"resolve":{"scale":{"color":"independent","shape":"independent","size":"independent"}},
"config":{
"view":{"stroke":"black","strokeWidth":1.5},
"axis":{"grid":false,"domain":false,"ticks":true,"tickSize":-5,"tickColor":"black","labelFontSize":19,"labelFont":"Liberation Sans","labelColor":"black","titleFont":"Liberation Sans","titleFontWeight":"normal","titleColor":"black","labelPadding":10}
}
}
